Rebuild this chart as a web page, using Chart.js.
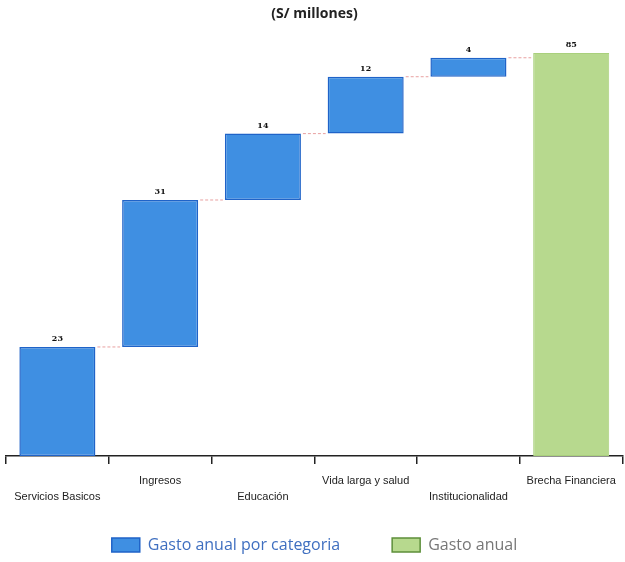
<!DOCTYPE html>
<html>
<head>
<meta charset="utf-8">
<script src="https://cdn.jsdelivr.net/npm/chart.js@4/dist/chart.umd.min.js"></script>
<style>
html,body{margin:0;padding:0;background:#fff;}
#wrap{width:625px;height:562px;position:relative;}
</style>
</head>
<body>
<div id="wrap"><canvas id="c"></canvas></div>
<script>
const categories = ['Servicios Basicos', 'Ingresos', 'Educación', 'Vida larga y salud', 'Institucionalidad', 'Brecha Financiera'];
const stepValues = [23, 31, 14, 12, 4];
const totalValue = 85;
const seriesNames = ['Gasto anual por categoria', 'Gasto anual'];
const lowLabel = [true, false, true, false, true, false];

// floating ranges for the waterfall steps
const stepRanges = [];
let run = 0;
stepValues.forEach(v => { stepRanges.push([run, run + v]); run += v; });
const stepData = stepRanges.concat([null]);
const totalData = stepValues.map(() => null).concat([[0, totalValue]]);
const labelText = stepValues.concat([totalValue]);

const tickLabels = categories.map((c, i) => lowLabel[i] ? ['', c] : [c]);

const valueLabels = {
  id: 'valueLabels',
  afterDatasetsDraw(chart) {
    const ctx = chart.ctx;
    const y = chart.scales.y;
    ctx.save();
    ctx.strokeStyle = '#e8a0a0';
    ctx.lineWidth = 1;
    ctx.setLineDash([3, 2]);
    const meta0 = chart.getDatasetMeta(0);
    const meta1 = chart.getDatasetMeta(1);
    const bars = categories.map((c, i) => i < stepValues.length ? meta0.data[i] : meta1.data[i]);
    const tops = categories.map((c, i) => i < stepValues.length ? stepRanges[i][1] : totalValue);
    for (let i = 0; i < bars.length - 1; i++) {
      const a = bars[i], b = bars[i + 1];
      const yy = y.getPixelForValue(tops[i]);
      ctx.beginPath();
      ctx.moveTo(a.x + a.width / 2 + 2, yy);
      ctx.lineTo(b.x - b.width / 2 - 2, yy);
      ctx.stroke();
    }
    ctx.setLineDash([]);
    ctx.fillStyle = '#111';
    ctx.font = 'bold 8px "DejaVu Serif"';
    ctx.textAlign = 'center';
    ctx.textBaseline = 'bottom';
    bars.forEach((b, i) => {
      ctx.fillText(String(labelText[i]), b.x, y.getPixelForValue(tops[i]) - 4);
    });
    ctx.restore();
  }
};

new Chart(document.getElementById('c'), {
  type: 'bar',
  data: {
    labels: tickLabels,
    datasets: [
      {
        label: seriesNames[0],
        data: stepData,
        backgroundColor: '#3f8fe2',
        borderColor: '#1f63c8',
        borderWidth: 1.5,
        borderSkipped: false,
        grouped: false,
        barPercentage: 0.74,
        categoryPercentage: 1.0
      },
      {
        label: seriesNames[1],
        data: totalData,
        backgroundColor: '#b7d98e',
        borderColor: '#a9d07c',
        borderWidth: 1,
        borderSkipped: false,
        grouped: false,
        barPercentage: 0.74,
        categoryPercentage: 1.0
      }
    ]
  },
  options: {
    responsive: true,
    maintainAspectRatio: false,
    animation: false,
    layout: { padding: { left: 6, right: 2, top: 4, bottom: -1 } },
    plugins: {
      title: {
        display: true,
        text: '(S/ millones)',
        color: '#222',
        font: { family: '"Open Sans"', size: 14, weight: 'bold' },
        padding: { top: 2, bottom: 16 }
      },
      legend: {
        position: 'bottom',
        labels: {
          boxWidth: 28,
          boxHeight: 14,
          padding: 52,
          font: { family: '"Open Sans"', size: 16 },
          generateLabels(chart) {
            const cols = ['#3f6fc0', '#777'];
            return chart.data.datasets.map((ds, i) => ({
              text: ds.label,
              fillStyle: ds.backgroundColor,
              strokeStyle: i === 0 ? '#1f63c8' : '#5d8f3a',
              lineWidth: 1.5,
              fontColor: cols[i],
              datasetIndex: i,
              hidden: false
            }));
          }
        }
      },
      tooltip: { enabled: false }
    },
    scales: {
      x: {
        afterFit(scale) {
          scale.height = 29;
          scale._computeLabelArea = () => undefined;
        },
        grid: { display: true, drawOnChartArea: false, drawTicks: true, tickLength: 8, color: '#222', lineWidth: 1.5, offset: true },
        border: { display: true, color: '#222', width: 1.5 },
        ticks: {
          color: '#222',
          maxRotation: 0,
          autoSkip: false,
          padding: 9,
          font: { family: '"Liberation Sans Narrow", "Liberation Sans"', size: 11, lineHeight: 1.45 }
        }
      },
      y: {
        display: false,
        min: 0,
        max: 88
      }
    }
  },
  plugins: [valueLabels]
});
</script>
</body>
</html>
